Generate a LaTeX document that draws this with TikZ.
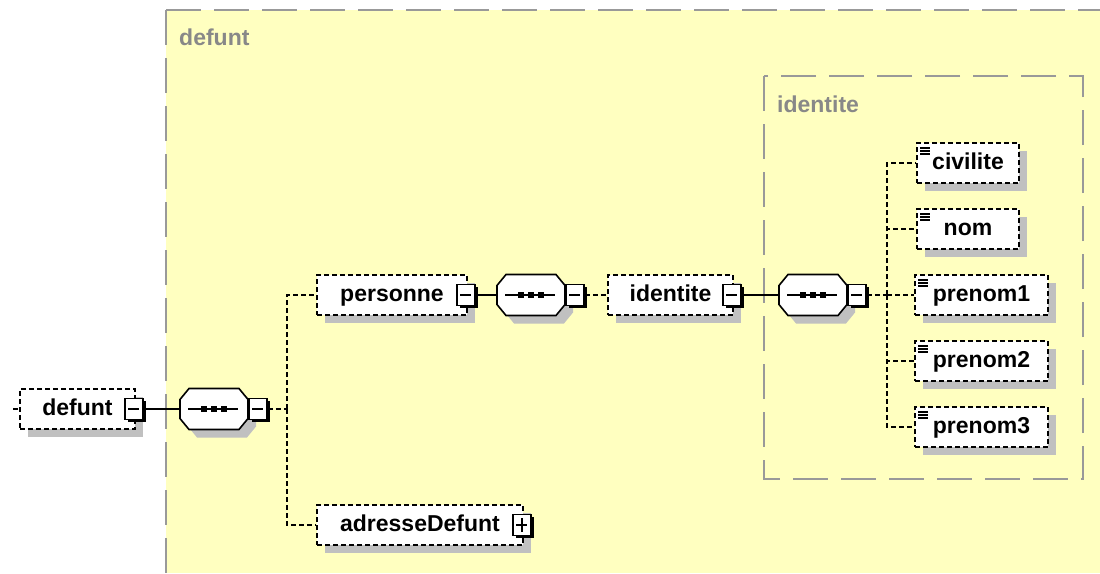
\documentclass[tikz,border=0pt]{standalone}
\usepackage{fontspec}
\setmainfont{Liberation Sans}
\usetikzlibrary{shadows}
\definecolor{bgyellow}{HTML}{FFFFC0}
\definecolor{framegray}{HTML}{999999}
\definecolor{labelgray}{HTML}{888888}
\definecolor{shadowgray}{HTML}{C0C0C0}
\newcommand\octpath{(-25,-20.5) -- (25,-20.5) -- (34,-9.5) -- (34,9.5) -- (25,20.5) -- (-25,20.5) -- (-34,9.5) -- (-34,-9.5) -- cycle}
\newcommand\seqdraw[1]{%
  \begin{scope}[shift={(#1.center)}]
    \begin{scope}[shift={(8,8)}]
      \fill[shadowgray] \octpath;
    \end{scope}
    \filldraw[fill=white, draw=black, line width=1.6pt] \octpath;
    \draw[line width=1.6pt] (-26,0) -- (24,0);
    \foreach \dx in {-10,0,10}{\fill[black] (\dx-3.2,-2.8) rectangle (\dx+3.2,2.8);}
  \end{scope}}
\begin{document}
\begin{tikzpicture}[x=1pt,y=-1pt,
  bigfont/.style={font=\bfseries\fontsize{23}{27}\selectfont},
  frame/.style={draw=framegray, line width=2pt, dash pattern=on 35pt off 13pt},
  grouplabel/.style={bigfont, text=labelgray, inner sep=0pt},
  elem/.style={draw, dash pattern=on 5pt off 3pt, line width=1.9pt, fill=white,
    minimum height=40pt, inner sep=0pt, bigfont, text height=16.5pt, text depth=4.5pt,
    general shadow={fill=shadowgray, shadow xshift=8pt, shadow yshift=-8pt}},
  leaf/.style={elem, path picture={
    \foreach \d in {5,8,11}{\draw[solid, line width=1.4pt]
      ([xshift=3pt,yshift=-\d pt]path picture bounding box.north west) -- ++(10pt,0);}}},
  tog/.style={draw, solid, fill=white, line width=1.9pt, minimum width=18pt, minimum height=21pt,
    inner sep=0pt, general shadow={fill=black, shadow xshift=2.8pt, shadow yshift=-2.8pt}},
  minusbox/.style={tog, path picture={\draw[solid, line width=1.6pt]
      ([xshift=3.5pt]path picture bounding box.west) -- ([xshift=-3.5pt]path picture bounding box.east);}},
  plusbox/.style={tog, path picture={\draw[solid, line width=1.6pt]
      ([xshift=3.5pt]path picture bounding box.west) -- ([xshift=-3.5pt]path picture bounding box.east)
      ([yshift=3.5pt]path picture bounding box.south) -- ([yshift=-3.5pt]path picture bounding box.north);}},
  seq/.style={rectangle, draw=none, fill=none, minimum width=68pt, minimum height=41pt, inner sep=0pt, outer sep=0pt},
  solidc/.style={draw, line width=1.7pt},
  dashc/.style={draw, line width=1.8pt, dash pattern=on 5pt off 3pt},
]
\useasboundingbox (0,0) rectangle (1100,573);
% group frames
\fill[bgyellow] (166,10) rectangle (1100,573);
\draw[frame] (166,10) -- (1100,10);
\draw[frame] (166,10) -- (166,573);
\draw[frame] (764,76) rectangle (1083,479);
\node[grouplabel, anchor=base west] (lblDefunt) at (179,45) {defunt};
\node[grouplabel, anchor=base west] (lblIdentite) at (777,112) {identite};

% level 0
\node[elem, minimum width=115pt] (defunt) at (77.5,409) {defunt\hspace{8pt}};
\node[minusbox] (t1) at ([xshift=-2pt]defunt.east) {};
\node[seq] (s1) at (214,409) {};
\seqdraw{s1}
\node[minusbox, anchor=west] (t2) at (s1.east) {};
\coordinate (in) at (13,409);
\coordinate (b1) at (287,409);

% level 1
\node[elem, minimum width=150pt] (personne) at (392,295) {personne\hspace{9pt}};
\node[minusbox] (t3) at ([xshift=-2pt]personne.east) {};
\node[seq] (s2) at (531,295) {};
\seqdraw{s2}
\node[minusbox, anchor=west] (t4) at (s2.east) {};
\node[elem, minimum width=206pt] (adr) at (420,525) {adresseDefunt\hspace{8pt}};
\node[plusbox] (t7) at ([xshift=-2pt]adr.east) {};

% level 2
\node[elem, minimum width=125pt] (identite) at (670.5,295) {identite\hspace{10pt}};
\node[minusbox] (t5) at ([xshift=-2pt]identite.east) {};
\node[seq] (s3) at (813,295) {};
\seqdraw{s3}
\node[minusbox, anchor=west] (t6) at (s3.east) {};
\coordinate (b2) at (887,295);

% leaves
\node[leaf, minimum width=102pt] (civilite) at (968,163) {civilite};
\node[leaf, minimum width=102pt] (nom) at (968,229) {nom};
\node[leaf, minimum width=133pt] (prenom1) at (981.5,295) {prenom1};
\node[leaf, minimum width=133pt] (prenom2) at (981.5,361) {prenom2};
\node[leaf, minimum width=133pt] (prenom3) at (981.5,427) {prenom3};

% connectors
\draw[dashc] (in) -- (defunt.west);
\draw[solidc] (t1) -- (s1);
\draw[dashc] (t2) -- (b1);
\draw[dashc] (b1) |- (personne.west);
\draw[dashc] (b1) |- (adr.west);
\draw[solidc] (t3) -- (s2);
\draw[dashc] (t4) -- (identite);
\draw[solidc] (t5) -- (s3);
\draw[dashc] (t6) -- (b2);
\draw[dashc] (b2) |- (civilite.west);
\draw[dashc] (b2) |- (nom.west);
\draw[dashc] (b2) -- (prenom1.west);
\draw[dashc] (b2) |- (prenom2.west);
\draw[dashc] (b2) |- (prenom3.west);
\end{tikzpicture}
\end{document}
